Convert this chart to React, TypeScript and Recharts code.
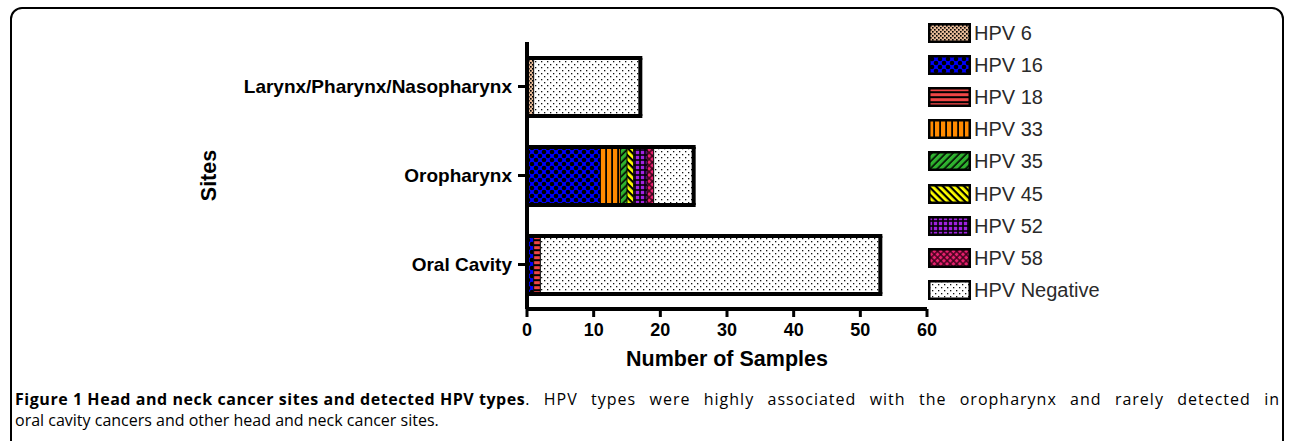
import React from 'react';
import { BarChart, Bar, XAxis, YAxis } from 'recharts';

// ---------- data ----------
const sites = ['Larynx/Pharynx/Nasopharynx', 'Oropharynx', 'Oral Cavity'];
const seriesNames = ['HPV 6', 'HPV 16', 'HPV 18', 'HPV 33', 'HPV 35', 'HPV 45', 'HPV 52', 'HPV 58', 'HPV Negative'];
const seriesKeys = ['hpv6', 'hpv16', 'hpv18', 'hpv33', 'hpv35', 'hpv45', 'hpv52', 'hpv58', 'hpvNeg'];
const hpv6 = [1, 0, 0];
const hpv16 = [0, 11, 1];
const hpv18 = [0, 0, 1];
const hpv33 = [0, 3, 0];
const hpv35 = [0, 1, 0];
const hpv45 = [0, 1, 0];
const hpv52 = [0, 2, 0];
const hpv58 = [0, 1, 0];
const hpvNeg = [16, 6, 51];
const xTicks = [0, 10, 20, 30, 40, 50, 60];

const seriesValues = [hpv6, hpv16, hpv18, hpv33, hpv35, hpv45, hpv52, hpv58, hpvNeg];

const data = sites.map((site, i) => {
  const row: any = { site };
  seriesKeys.forEach((k, j) => {
    row[k] = seriesValues[j][i];
  });
  return row;
});

const FONT = '"Liberation Sans", Arial, Helvetica, sans-serif';

function Patterns() {
  return (
    <svg width={0} height={0} style={{ position: 'absolute' }}>
      <defs>
        <pattern id="p-hpv6" width={4} height={4} patternUnits="userSpaceOnUse">
          <rect width={4} height={4} fill="#e6b996" />
          <rect x={0} y={0} width={1.6} height={1.6} fill="#000" />
          <rect x={2} y={2} width={1.6} height={1.6} fill="#000" />
        </pattern>
        <pattern id="p-hpv16" width={8} height={8} patternUnits="userSpaceOnUse">
          <rect width={8} height={8} fill="#0000ff" />
          <circle cx={0} cy={0} r={2.3} fill="#000" />
          <circle cx={8} cy={0} r={2.3} fill="#000" />
          <circle cx={0} cy={8} r={2.3} fill="#000" />
          <circle cx={8} cy={8} r={2.3} fill="#000" />
          <circle cx={4} cy={4} r={2.3} fill="#000" />
        </pattern>
        <pattern id="p-hpv18" width={5} height={5} patternUnits="userSpaceOnUse">
          <rect width={5} height={5} fill="#000" />
          <rect x={0} y={1.2} width={5} height={3} fill="#f04646" />
        </pattern>
        <pattern id="p-hpv33" width={6} height={6} patternUnits="userSpaceOnUse">
          <rect width={6} height={6} fill="#000" />
          <rect x={1} y={0} width={4.2} height={6} fill="#ff8a00" />
        </pattern>
        <pattern id="p-hpv35" width={5} height={5} patternUnits="userSpaceOnUse" patternTransform="rotate(45)">
          <rect width={5} height={5} fill="#000" />
          <rect x={0} y={0} width={3.4} height={5} fill="#2fb32f" />
        </pattern>
        <pattern id="p-hpv45" width={5} height={5} patternUnits="userSpaceOnUse" patternTransform="rotate(-45)">
          <rect width={5} height={5} fill="#000" />
          <rect x={0} y={0} width={2.8} height={5} fill="#ffff00" />
        </pattern>
        <pattern id="p-hpv52" width={5} height={5} patternUnits="userSpaceOnUse">
          <rect width={5} height={5} fill="#000" />
          <rect x={0.8} y={0.8} width={3.4} height={3.4} fill="#a020e0" />
        </pattern>
        <pattern id="p-hpv58" width={4.5} height={4.5} patternUnits="userSpaceOnUse" patternTransform="rotate(45)">
          <rect width={4.5} height={4.5} fill="#3a0018" />
          <rect x={0.7} y={0.7} width={3.1} height={3.1} fill="#e8206e" />
        </pattern>
        <pattern id="p-hpvNeg" width={6} height={6} patternUnits="userSpaceOnUse">
          <rect width={6} height={6} fill="#fff" />
          <rect x={1} y={1} width={1.3} height={1.3} fill="#111" />
          <rect x={4} y={4} width={1.3} height={1.3} fill="#111" />
        </pattern>
      </defs>
    </svg>
  );
}

const makeShape = (idx: number) => (props: any) => {
  const { x, y, width, height, payload } = props;
  if (!width || width <= 0 || !payload) return <g />;
  const vals = seriesKeys.map((k) => payload[k] || 0);
  const first = vals.findIndex((v) => v > 0);
  let last = -1;
  vals.forEach((v, i) => {
    if (v > 0) last = i;
  });
  const x2 = x + width;
  const y2 = y + height;
  return (
    <g>
      <rect x={x} y={y} width={width} height={height} fill={`url(#p-${seriesKeys[idx]})`} />
      <line x1={x} x2={x} y1={y} y2={y2} stroke="#000" strokeWidth={idx === first ? 4 : 1} />
      {idx === last && <line x1={x2} x2={x2} y1={y} y2={y2} stroke="#000" strokeWidth={4} />}
      <line x1={x} x2={x2} y1={y} y2={y} stroke="#000" strokeWidth={4} strokeLinecap="square" />
      <line x1={x} x2={x2} y1={y2} y2={y2} stroke="#000" strokeWidth={4} strokeLinecap="square" />
    </g>
  );
};

function LegendBlock() {
  return (
    <div style={{ position: 'absolute', left: 928, top: 23 }}>
      {seriesNames.map((name, i) => (
        <div
          key={name}
          style={{ position: 'absolute', left: 0, top: i * 32.1, display: 'flex', alignItems: 'center', height: 20, whiteSpace: 'nowrap' }}
        >
          <svg width={43} height={20} style={{ display: 'block' }}>
            <rect x={1.25} y={1.25} width={40.5} height={17.5} fill={`url(#p-${seriesKeys[i]})`} stroke="#000" strokeWidth={2.5} />
          </svg>
          <span style={{ marginLeft: 3, fontFamily: FONT, fontSize: 20, lineHeight: '20px', color: '#2a2a2a' }}>{name}</span>
        </div>
      ))}
    </div>
  );
}

export default function App() {
  return (
    <div style={{ position: 'absolute', left: 0, top: 0, width: 1290, height: 441, overflow: 'hidden', background: '#fff' }}>
      <Patterns />
      <div
        style={{
          position: 'absolute',
          left: 10,
          top: 7,
          width: 1274,
          height: 500,
          border: '2px solid #000',
          borderRadius: 12,
          boxSizing: 'border-box',
        }}
      />
      <div style={{ position: 'absolute', left: 0, top: 0 }}>
        <BarChart
          layout="vertical"
          width={1290}
          height={380}
          data={data}
          margin={{ top: 42, right: 363, bottom: 0, left: 0 }}
          barSize={58}
        >
          <XAxis
            type="number"
            domain={[0, 60]}
            ticks={xTicks}
            interval={0}
            height={71}
            axisLine={{ stroke: '#000', strokeWidth: 4 }}
            tickLine={{ stroke: '#000', strokeWidth: 3 }}
            tickSize={8}
            tickMargin={6}
            tick={{ fontSize: 18, fontWeight: 'bold', fill: '#000', fontFamily: FONT }}
            label={{
              value: 'Number of Samples',
              position: 'insideBottom',
              offset: 14,
              style: { fontSize: 21.5, fontWeight: 'bold', fill: '#000', fontFamily: FONT },
            }}
          />
          <YAxis
            type="category"
            dataKey="site"
            width={527}
            axisLine={{ stroke: '#000', strokeWidth: 4 }}
            tickLine={{ stroke: '#000', strokeWidth: 3 }}
            tickSize={9}
            tickMargin={6}
            interval={0}
            tick={{ fontSize: 19, fontWeight: 'bold', fill: '#000', fontFamily: FONT }}
            label={{
              value: 'Sites',
              angle: -90,
              position: 'insideLeft',
              offset: 208,
              style: { textAnchor: 'middle', fontSize: 21.5, fontWeight: 'bold', fill: '#000', fontFamily: FONT },
            }}
          />
          {seriesKeys.map((k, i) => (
            <Bar
              key={k}
              dataKey={k}
              name={seriesNames[i]}
              stackId="a"
              fill={`url(#p-${k})`}
              shape={makeShape(i)}
              isAnimationActive={false}
            />
          ))}
        </BarChart>
      </div>
      <LegendBlock />
      <div
        style={{
          position: 'absolute',
          left: 15,
          top: 389,
          width: 1265,
          fontFamily: '"Open Sans", "Noto Sans", sans-serif',
          fontSize: 16,
          lineHeight: '21px',
          color: '#000',
        }}
      >
        <div style={{ display: 'flex', whiteSpace: 'nowrap' }}>
          <b style={{ letterSpacing: '0.55px', flex: 'none' }}>Figure 1 Head and neck cancer sites and detected HPV types</b>
          <span style={{ flex: 1, textAlign: 'justify', textAlignLast: 'justify' as any, letterSpacing: '1px' }}>
            . HPV types were highly associated with the oropharynx and rarely detected in
          </span>
        </div>
        <div>oral cavity cancers and other head and neck cancer sites.</div>
      </div>
    </div>
  );
}
